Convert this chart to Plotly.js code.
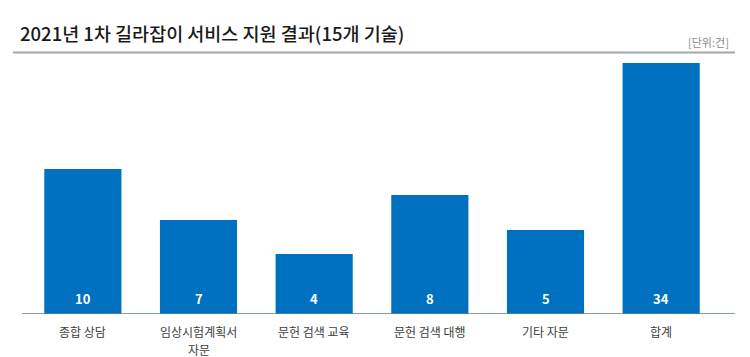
<!DOCTYPE html>
<html>
<head>
<meta charset="utf-8">
<script src="https://cdn.plot.ly/plotly-3.0.1.min.js"></script>
<style>html,body{margin:0;padding:0;background:#fff;}#chart{width:750px;height:357px;}</style>
</head>
<body>
<div id="chart"></div>
<script>
// Categories and values
const categories = ['종합 상담', '임상시험계획서\n자문', '문헌 검색 교육', '문헌 검색 대행', '기타 자문', '합계'];
const counts = [10, 7, 4, 8, 5, 34];
// Bar lengths as drawn in the reference (the picture's scale is not linear in the counts)
const drawnHeights = [145, 94, 60, 119, 84, 251];
const titleText = '2021년 1차 길라잡이 서비스 지원 결과(15개 기술)';
const unitText = '[단위:건]';

const FONT = '"Noto Sans CJK KR", "Noto Sans", sans-serif';

const trace = {
  type: 'bar',
  x: categories,
  y: drawnHeights,
  marker: {color: '#0070C0', line: {width: 0}},
  hoverinfo: 'skip',
  showlegend: false
};

const valueAnnotations = categories.map((c, i) => ({
  x: c, y: 0, xref: 'x', yref: 'y',
  text: String(counts[i]),
  showarrow: false,
  yanchor: 'bottom',
  yshift: 4,
  font: {family: FONT, size: 13, color: '#ffffff', weight: 700}
}));

const labelAnnotations = [];
categories.forEach(c => {
  c.split('\n').forEach((line, k) => {
    labelAnnotations.push({
      x: c, y: 0, xref: 'x', yref: 'y',
      text: line,
      showarrow: false,
      yanchor: 'middle',
      yshift: -17.5 - 17.5 * k,
      borderpad: 0,
      font: {family: FONT, size: 12, color: '#404040'}
    });
  });
});

const layout = {
  width: 750, height: 357,
  margin: {l: 25, r: 31, t: 54, b: 43, pad: 0},
  paper_bgcolor: '#ffffff',
  plot_bgcolor: '#ffffff',
  bargap: 0.333,
  xaxis: {
    type: 'category',
    showgrid: false, zeroline: false, showline: false,
    ticks: '', showticklabels: false,
    fixedrange: true
  },
  yaxis: {
    range: [0, 260],
    visible: false,
    showgrid: false, zeroline: false,
    fixedrange: true
  },
  annotations: [
    {
      xref: 'paper', yref: 'paper', x: -7/694, y: (314 - 33) / 260,
      xanchor: 'left', yanchor: 'middle', showarrow: false,
      text: titleText,
      font: {family: FONT, size: 18.5, color: '#1a1a1a', weight: 500}
    },
    {
      xref: 'paper', yref: 'paper', x: (731 - 25) / 694, y: (314 - 42) / 260,
      xanchor: 'right', yanchor: 'middle', showarrow: false,
      text: unitText,
      font: {family: FONT, size: 11, color: '#8a8a8a'}
    }
  ].concat(valueAnnotations, labelAnnotations),
  shapes: [
    {
      type: 'line', xref: 'paper', yref: 'paper',
      x0: (13 - 25) / 694, x1: (735 - 25) / 694,
      y0: (314 - 52.5) / 260, y1: (314 - 52.5) / 260,
      line: {color: '#a6a6a6', width: 2}
    },
    {
      type: 'line', xref: 'paper', yref: 'y',
      x0: (22 - 25) / 694, x1: (735 - 25) / 694,
      y0: 0, y1: 0,
      line: {color: '#5b7f95', width: 1.5},
      layer: 'above'
    }
  ]
};

Plotly.newPlot('chart', [trace], layout, {displayModeBar: false, staticPlot: true});
</script>
</body>
</html>
